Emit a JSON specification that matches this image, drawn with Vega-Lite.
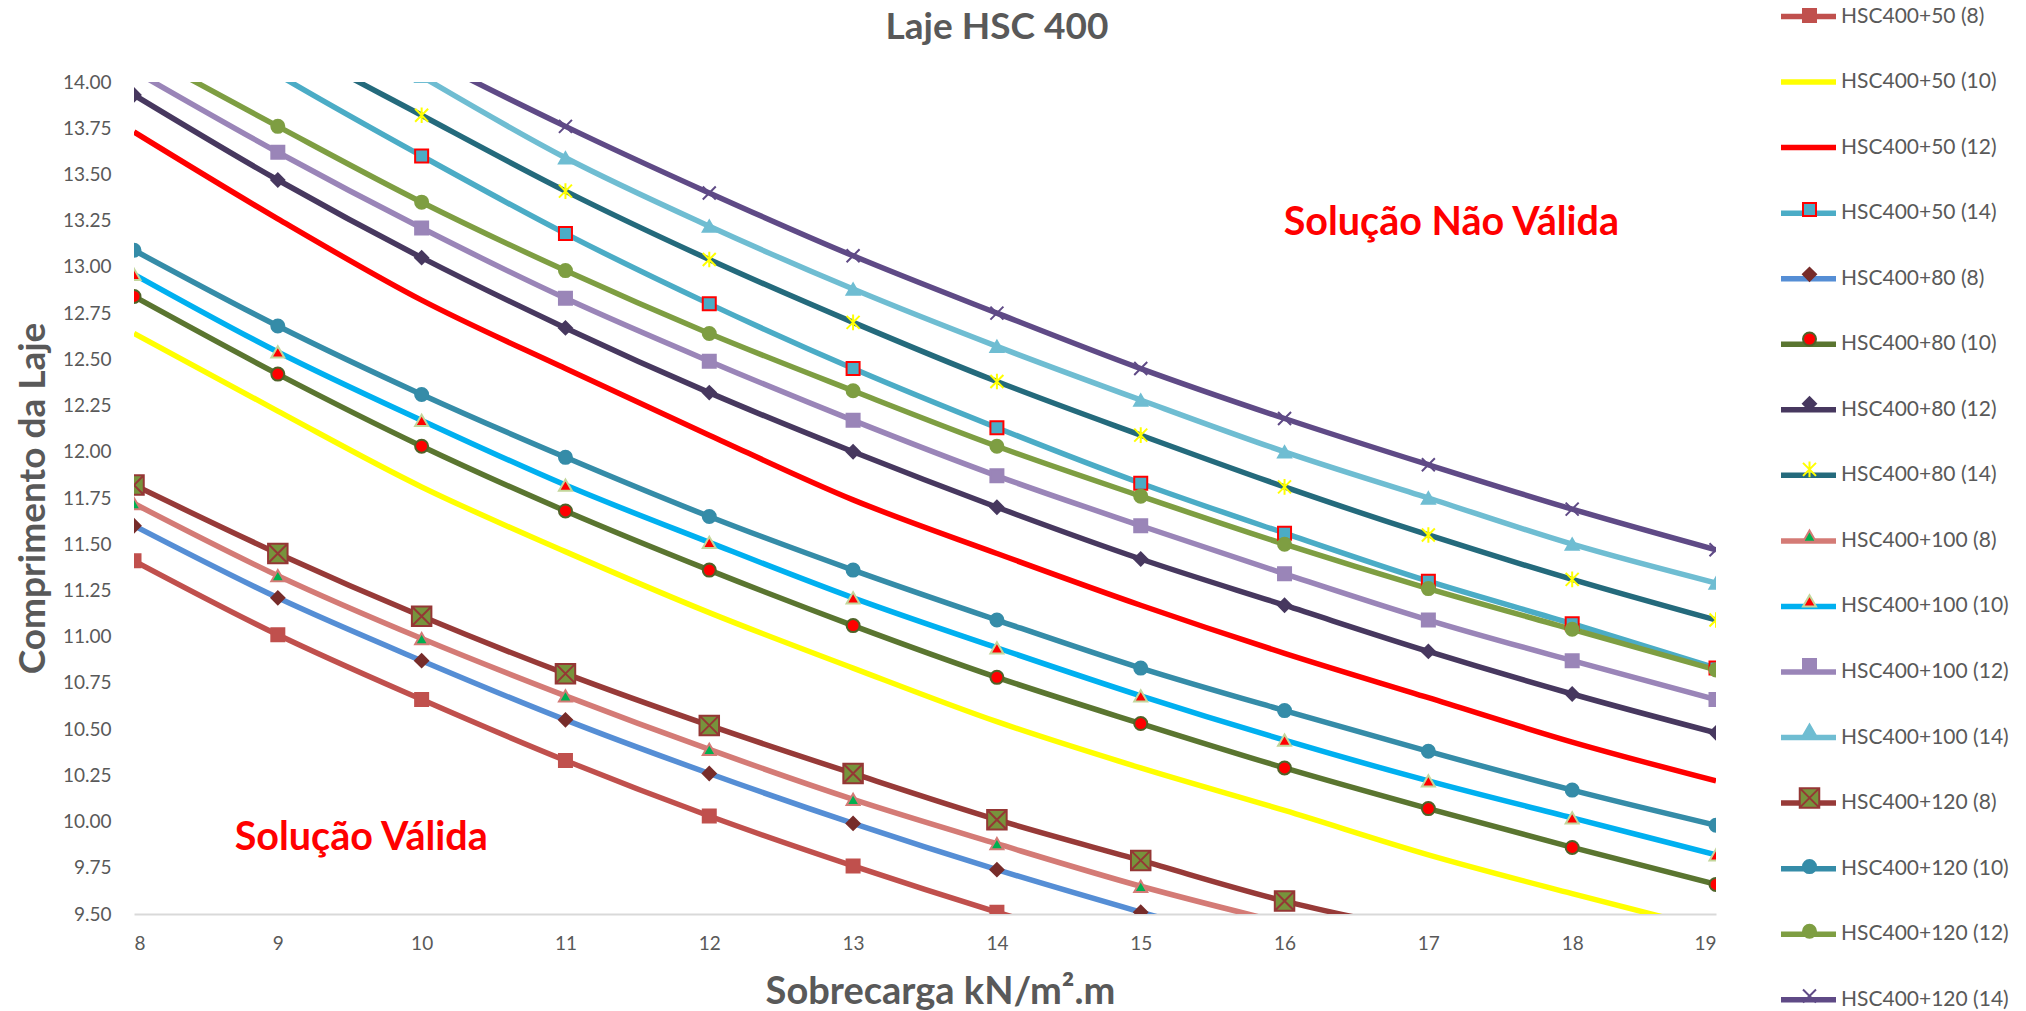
{
  "$schema": "https://vega.github.io/schema/vega-lite/v6.json",
  "autosize": {"type": "none"},
  "padding": {"left": 134, "top": 82, "right": 310, "bottom": 97},
  "width": 1582,
  "height": 832,
  "background": "white",
  "config": {"view": {"stroke": null}, "font": "Lato"},
  "title": {"text": "Laje HSC 400", "font": "Lato", "fontSize": 37, "fontWeight": "bold", "color": "#595959", "anchor": "middle", "frame": "group", "dx": 72, "baseline": "alphabetic", "offset": -90},
  "datasets": {
    "curves": [
      {"series": "HSC400+50 (8)", "x": 8, "y": 11.41}, {"series": "HSC400+50 (8)", "x": 9, "y": 11.01}, {"series": "HSC400+50 (8)", "x": 10, "y": 10.66}, {"series": "HSC400+50 (8)", "x": 11, "y": 10.33}, {"series": "HSC400+50 (8)", "x": 12, "y": 10.03}, {"series": "HSC400+50 (8)", "x": 13, "y": 9.76}, {"series": "HSC400+50 (8)", "x": 14, "y": 9.51}, {"series": "HSC400+50 (8)", "x": 15, "y": 9.28},
      {"series": "HSC400+50 (10)", "x": 8, "y": 12.64}, {"series": "HSC400+50 (10)", "x": 9, "y": 12.22}, {"series": "HSC400+50 (10)", "x": 10, "y": 11.81}, {"series": "HSC400+50 (10)", "x": 11, "y": 11.46}, {"series": "HSC400+50 (10)", "x": 12, "y": 11.13}, {"series": "HSC400+50 (10)", "x": 13, "y": 10.83}, {"series": "HSC400+50 (10)", "x": 14, "y": 10.54}, {"series": "HSC400+50 (10)", "x": 15, "y": 10.29}, {"series": "HSC400+50 (10)", "x": 16, "y": 10.06}, {"series": "HSC400+50 (10)", "x": 17, "y": 9.82}, {"series": "HSC400+50 (10)", "x": 18, "y": 9.61}, {"series": "HSC400+50 (10)", "x": 19, "y": 9.41},
      {"series": "HSC400+50 (12)", "x": 8, "y": 13.73}, {"series": "HSC400+50 (12)", "x": 9, "y": 13.26}, {"series": "HSC400+50 (12)", "x": 10, "y": 12.82}, {"series": "HSC400+50 (12)", "x": 11, "y": 12.45}, {"series": "HSC400+50 (12)", "x": 12, "y": 12.09}, {"series": "HSC400+50 (12)", "x": 13, "y": 11.74}, {"series": "HSC400+50 (12)", "x": 14, "y": 11.45}, {"series": "HSC400+50 (12)", "x": 15, "y": 11.17}, {"series": "HSC400+50 (12)", "x": 16, "y": 10.91}, {"series": "HSC400+50 (12)", "x": 17, "y": 10.67}, {"series": "HSC400+50 (12)", "x": 18, "y": 10.43}, {"series": "HSC400+50 (12)", "x": 19, "y": 10.22},
      {"series": "HSC400+50 (14)", "x": 8, "y": 14.52}, {"series": "HSC400+50 (14)", "x": 9, "y": 14.04}, {"series": "HSC400+50 (14)", "x": 10, "y": 13.60}, {"series": "HSC400+50 (14)", "x": 11, "y": 13.18}, {"series": "HSC400+50 (14)", "x": 12, "y": 12.80}, {"series": "HSC400+50 (14)", "x": 13, "y": 12.45}, {"series": "HSC400+50 (14)", "x": 14, "y": 12.13}, {"series": "HSC400+50 (14)", "x": 15, "y": 11.83}, {"series": "HSC400+50 (14)", "x": 16, "y": 11.56}, {"series": "HSC400+50 (14)", "x": 17, "y": 11.30}, {"series": "HSC400+50 (14)", "x": 18, "y": 11.07}, {"series": "HSC400+50 (14)", "x": 19, "y": 10.83},
      {"series": "HSC400+80 (8)", "x": 8, "y": 11.60}, {"series": "HSC400+80 (8)", "x": 9, "y": 11.21}, {"series": "HSC400+80 (8)", "x": 10, "y": 10.87}, {"series": "HSC400+80 (8)", "x": 11, "y": 10.55}, {"series": "HSC400+80 (8)", "x": 12, "y": 10.26}, {"series": "HSC400+80 (8)", "x": 13, "y": 9.99}, {"series": "HSC400+80 (8)", "x": 14, "y": 9.74}, {"series": "HSC400+80 (8)", "x": 15, "y": 9.51}, {"series": "HSC400+80 (8)", "x": 16, "y": 9.29},
      {"series": "HSC400+80 (10)", "x": 8, "y": 12.84}, {"series": "HSC400+80 (10)", "x": 9, "y": 12.42}, {"series": "HSC400+80 (10)", "x": 10, "y": 12.03}, {"series": "HSC400+80 (10)", "x": 11, "y": 11.68}, {"series": "HSC400+80 (10)", "x": 12, "y": 11.36}, {"series": "HSC400+80 (10)", "x": 13, "y": 11.06}, {"series": "HSC400+80 (10)", "x": 14, "y": 10.78}, {"series": "HSC400+80 (10)", "x": 15, "y": 10.53}, {"series": "HSC400+80 (10)", "x": 16, "y": 10.29}, {"series": "HSC400+80 (10)", "x": 17, "y": 10.07}, {"series": "HSC400+80 (10)", "x": 18, "y": 9.86}, {"series": "HSC400+80 (10)", "x": 19, "y": 9.66},
      {"series": "HSC400+80 (12)", "x": 8, "y": 13.93}, {"series": "HSC400+80 (12)", "x": 9, "y": 13.47}, {"series": "HSC400+80 (12)", "x": 10, "y": 13.05}, {"series": "HSC400+80 (12)", "x": 11, "y": 12.67}, {"series": "HSC400+80 (12)", "x": 12, "y": 12.32}, {"series": "HSC400+80 (12)", "x": 13, "y": 12.00}, {"series": "HSC400+80 (12)", "x": 14, "y": 11.70}, {"series": "HSC400+80 (12)", "x": 15, "y": 11.42}, {"series": "HSC400+80 (12)", "x": 16, "y": 11.17}, {"series": "HSC400+80 (12)", "x": 17, "y": 10.92}, {"series": "HSC400+80 (12)", "x": 18, "y": 10.69}, {"series": "HSC400+80 (12)", "x": 19, "y": 10.48},
      {"series": "HSC400+80 (14)", "x": 8, "y": 14.72}, {"series": "HSC400+80 (14)", "x": 9, "y": 14.24}, {"series": "HSC400+80 (14)", "x": 10, "y": 13.82}, {"series": "HSC400+80 (14)", "x": 11, "y": 13.41}, {"series": "HSC400+80 (14)", "x": 12, "y": 13.04}, {"series": "HSC400+80 (14)", "x": 13, "y": 12.70}, {"series": "HSC400+80 (14)", "x": 14, "y": 12.38}, {"series": "HSC400+80 (14)", "x": 15, "y": 12.09}, {"series": "HSC400+80 (14)", "x": 16, "y": 11.81}, {"series": "HSC400+80 (14)", "x": 17, "y": 11.55}, {"series": "HSC400+80 (14)", "x": 18, "y": 11.31}, {"series": "HSC400+80 (14)", "x": 19, "y": 11.09},
      {"series": "HSC400+100 (8)", "x": 8, "y": 11.72}, {"series": "HSC400+100 (8)", "x": 9, "y": 11.33}, {"series": "HSC400+100 (8)", "x": 10, "y": 10.99}, {"series": "HSC400+100 (8)", "x": 11, "y": 10.68}, {"series": "HSC400+100 (8)", "x": 12, "y": 10.39}, {"series": "HSC400+100 (8)", "x": 13, "y": 10.12}, {"series": "HSC400+100 (8)", "x": 14, "y": 9.88}, {"series": "HSC400+100 (8)", "x": 15, "y": 9.65}, {"series": "HSC400+100 (8)", "x": 16, "y": 9.45},
      {"series": "HSC400+100 (10)", "x": 8, "y": 12.96}, {"series": "HSC400+100 (10)", "x": 9, "y": 12.54}, {"series": "HSC400+100 (10)", "x": 10, "y": 12.17}, {"series": "HSC400+100 (10)", "x": 11, "y": 11.82}, {"series": "HSC400+100 (10)", "x": 12, "y": 11.51}, {"series": "HSC400+100 (10)", "x": 13, "y": 11.21}, {"series": "HSC400+100 (10)", "x": 14, "y": 10.94}, {"series": "HSC400+100 (10)", "x": 15, "y": 10.68}, {"series": "HSC400+100 (10)", "x": 16, "y": 10.44}, {"series": "HSC400+100 (10)", "x": 17, "y": 10.22}, {"series": "HSC400+100 (10)", "x": 18, "y": 10.02}, {"series": "HSC400+100 (10)", "x": 19, "y": 9.82},
      {"series": "HSC400+100 (12)", "x": 8, "y": 14.06}, {"series": "HSC400+100 (12)", "x": 9, "y": 13.62}, {"series": "HSC400+100 (12)", "x": 10, "y": 13.21}, {"series": "HSC400+100 (12)", "x": 11, "y": 12.83}, {"series": "HSC400+100 (12)", "x": 12, "y": 12.49}, {"series": "HSC400+100 (12)", "x": 13, "y": 12.17}, {"series": "HSC400+100 (12)", "x": 14, "y": 11.87}, {"series": "HSC400+100 (12)", "x": 15, "y": 11.60}, {"series": "HSC400+100 (12)", "x": 16, "y": 11.34}, {"series": "HSC400+100 (12)", "x": 17, "y": 11.09}, {"series": "HSC400+100 (12)", "x": 18, "y": 10.87}, {"series": "HSC400+100 (12)", "x": 19, "y": 10.66},
      {"series": "HSC400+100 (14)", "x": 8, "y": 15.00}, {"series": "HSC400+100 (14)", "x": 9, "y": 14.50}, {"series": "HSC400+100 (14)", "x": 10, "y": 14.03}, {"series": "HSC400+100 (14)", "x": 11, "y": 13.59}, {"series": "HSC400+100 (14)", "x": 12, "y": 13.22}, {"series": "HSC400+100 (14)", "x": 13, "y": 12.88}, {"series": "HSC400+100 (14)", "x": 14, "y": 12.57}, {"series": "HSC400+100 (14)", "x": 15, "y": 12.28}, {"series": "HSC400+100 (14)", "x": 16, "y": 12.00}, {"series": "HSC400+100 (14)", "x": 17, "y": 11.75}, {"series": "HSC400+100 (14)", "x": 18, "y": 11.50}, {"series": "HSC400+100 (14)", "x": 19, "y": 11.29},
      {"series": "HSC400+120 (8)", "x": 8, "y": 11.82}, {"series": "HSC400+120 (8)", "x": 9, "y": 11.45}, {"series": "HSC400+120 (8)", "x": 10, "y": 11.11}, {"series": "HSC400+120 (8)", "x": 11, "y": 10.80}, {"series": "HSC400+120 (8)", "x": 12, "y": 10.52}, {"series": "HSC400+120 (8)", "x": 13, "y": 10.26}, {"series": "HSC400+120 (8)", "x": 14, "y": 10.01}, {"series": "HSC400+120 (8)", "x": 15, "y": 9.79}, {"series": "HSC400+120 (8)", "x": 16, "y": 9.57}, {"series": "HSC400+120 (8)", "x": 17, "y": 9.40},
      {"series": "HSC400+120 (10)", "x": 8, "y": 13.09}, {"series": "HSC400+120 (10)", "x": 9, "y": 12.68}, {"series": "HSC400+120 (10)", "x": 10, "y": 12.31}, {"series": "HSC400+120 (10)", "x": 11, "y": 11.97}, {"series": "HSC400+120 (10)", "x": 12, "y": 11.65}, {"series": "HSC400+120 (10)", "x": 13, "y": 11.36}, {"series": "HSC400+120 (10)", "x": 14, "y": 11.09}, {"series": "HSC400+120 (10)", "x": 15, "y": 10.83}, {"series": "HSC400+120 (10)", "x": 16, "y": 10.60}, {"series": "HSC400+120 (10)", "x": 17, "y": 10.38}, {"series": "HSC400+120 (10)", "x": 18, "y": 10.17}, {"series": "HSC400+120 (10)", "x": 19, "y": 9.98},
      {"series": "HSC400+120 (12)", "x": 8, "y": 14.18}, {"series": "HSC400+120 (12)", "x": 9, "y": 13.76}, {"series": "HSC400+120 (12)", "x": 10, "y": 13.35}, {"series": "HSC400+120 (12)", "x": 11, "y": 12.98}, {"series": "HSC400+120 (12)", "x": 12, "y": 12.64}, {"series": "HSC400+120 (12)", "x": 13, "y": 12.33}, {"series": "HSC400+120 (12)", "x": 14, "y": 12.03}, {"series": "HSC400+120 (12)", "x": 15, "y": 11.76}, {"series": "HSC400+120 (12)", "x": 16, "y": 11.50}, {"series": "HSC400+120 (12)", "x": 17, "y": 11.26}, {"series": "HSC400+120 (12)", "x": 18, "y": 11.04}, {"series": "HSC400+120 (12)", "x": 19, "y": 10.82},
      {"series": "HSC400+120 (14)", "x": 8, "y": 15.10}, {"series": "HSC400+120 (14)", "x": 9, "y": 14.60}, {"series": "HSC400+120 (14)", "x": 10, "y": 14.15}, {"series": "HSC400+120 (14)", "x": 11, "y": 13.76}, {"series": "HSC400+120 (14)", "x": 12, "y": 13.40}, {"series": "HSC400+120 (14)", "x": 13, "y": 13.06}, {"series": "HSC400+120 (14)", "x": 14, "y": 12.75}, {"series": "HSC400+120 (14)", "x": 15, "y": 12.45}, {"series": "HSC400+120 (14)", "x": 16, "y": 12.18}, {"series": "HSC400+120 (14)", "x": 17, "y": 11.93}, {"series": "HSC400+120 (14)", "x": 18, "y": 11.69}, {"series": "HSC400+120 (14)", "x": 19, "y": 11.47}
    ],
    "notes": [
      {"x": 17.16, "y": 13.24, "label": "Solução Não Válida"},
      {"x": 9.58, "y": 9.91, "label": "Solução Válida"}
    ]
  },
  "data": {"name": "curves"},
  "encoding": {
    "x": {"field": "x", "type": "quantitative", "scale": {"domain": [8, 19], "nice": false, "zero": false},
      "axis": {"values": [8, 9, 10, 11, 12, 13, 14, 15, 16, 17, 18, 19], "format": "d", "grid": false, "ticks": false, "tickSize": 0, "domainColor": "#D9D9D9", "domainWidth": 2, "labelFont": "Lato", "labelFontSize": 19, "labelColor": "#595959", "labelPadding": 20, "title": "Sobrecarga kN/m².m", "titleFont": "Lato", "titleFontSize": 38, "titleFontWeight": "bold", "titleColor": "#595959", "titlePadding": 20, "titleX": 806}},
    "y": {"field": "y", "type": "quantitative", "scale": {"domain": [9.5, 14], "nice": false, "zero": false},
      "axis": {"values": [9.5, 9.75, 10, 10.25, 10.5, 10.75, 11, 11.25, 11.5, 11.75, 12, 12.25, 12.5, 12.75, 13, 13.25, 13.5, 13.75, 14], "format": ".2f", "grid": false, "ticks": false, "tickSize": 0, "domain": false, "labelFont": "Lato", "labelFontSize": 19, "labelColor": "#595959", "labelPadding": 23, "title": "Comprimento da Laje", "titleFont": "Lato", "titleFontSize": 37, "titleFontWeight": "bold", "titleColor": "#595959", "titlePadding": 10}}
  },
  "layer": [
    {
      "mark": {"type": "line", "interpolate": "monotone", "strokeWidth": 5.5, "clip": true},
      "encoding": {
        "color": {"field": "series", "type": "nominal",
          "sort": ["HSC400+50 (8)", "HSC400+50 (10)", "HSC400+50 (12)", "HSC400+50 (14)", "HSC400+80 (8)", "HSC400+80 (10)", "HSC400+80 (12)", "HSC400+80 (14)", "HSC400+100 (8)", "HSC400+100 (10)", "HSC400+100 (12)", "HSC400+100 (14)", "HSC400+120 (8)", "HSC400+120 (10)", "HSC400+120 (12)", "HSC400+120 (14)"],
          "scale": {"range": ["#C0504D", "#FFFF00", "#FF0000", "#4BACC6", "#558ED5", "#5A7530", "#47385F", "#246A7C", "#D47B76", "#00B0F0", "#9A85B8", "#6FBDD2", "#973A38", "#358CA8", "#7E9E42", "#5F4A86"]},
          "legend": {"orient": "none", "legendX": 1644, "legendY": -96, "title": null, "symbolType": "stroke", "symbolSize": 3025, "symbolStrokeWidth": 5.5, "symbolOpacity": 1, "labelFont": "Lato", "labelFontSize": 21, "labelColor": "#595959", "labelOffset": 2, "labelLimit": 300, "rowPadding": 23.55, "padding": 0}}
      }
    },
    {
      "mark": {"type": "point", "filled": true, "opacity": 1, "size": 169, "strokeWidth": 2, "clip": true},
      "encoding": {
        "fill": {"field": "series", "type": "nominal",
          "scale": {"domain": ["HSC400+50 (8)", "HSC400+50 (10)", "HSC400+50 (12)", "HSC400+50 (14)", "HSC400+80 (8)", "HSC400+80 (10)", "HSC400+80 (12)", "HSC400+80 (14)", "HSC400+100 (8)", "HSC400+100 (10)", "HSC400+100 (12)", "HSC400+100 (14)", "HSC400+120 (8)", "HSC400+120 (10)", "HSC400+120 (12)", "HSC400+120 (14)"],
            "range": ["#C0504D", "transparent", "transparent", "#4BACC6", "#772C2A", "#FF0000", "#47385F", "#FFFF00", "#00B050", "#FF0000", "#9A85B8", "#6FBDD2", "#77933C", "#358CA8", "#7E9E42", "#5F4A86"]},
          "legend": {"orient": "none", "legendX": 1665, "legendY": -77, "title": null, "symbolSize": 169, "symbolStrokeWidth": 2, "symbolOpacity": 1, "labelFont": "Lato", "labelFontSize": 21, "labelExpr": "''", "labelOffset": 6, "labelLimit": 300, "rowPadding": 42.7, "padding": 0}},
        "stroke": {"field": "series", "type": "nominal",
          "scale": {"domain": ["HSC400+50 (8)", "HSC400+50 (10)", "HSC400+50 (12)", "HSC400+50 (14)", "HSC400+80 (8)", "HSC400+80 (10)", "HSC400+80 (12)", "HSC400+80 (14)", "HSC400+100 (8)", "HSC400+100 (10)", "HSC400+100 (12)", "HSC400+100 (14)", "HSC400+120 (8)", "HSC400+120 (10)", "HSC400+120 (12)", "HSC400+120 (14)"],
            "range": ["#C0504D", "transparent", "transparent", "#FF0000", "#772C2A", "#4F6228", "#47385F", "#FFFF00", "#D47B76", "#C3D69B", "#9A85B8", "#6FBDD2", "#953735", "#358CA8", "#7E9E42", "#5F4A86"]},
          "legend": {"orient": "none", "legendX": 1665, "legendY": -77, "title": null, "symbolSize": 169, "symbolStrokeWidth": 2, "symbolOpacity": 1, "labelFont": "Lato", "labelFontSize": 21, "labelExpr": "''", "labelOffset": 6, "labelLimit": 300, "rowPadding": 42.7, "padding": 0}},
        "shape": {"field": "series", "type": "nominal",
          "scale": {"domain": ["HSC400+50 (8)", "HSC400+50 (10)", "HSC400+50 (12)", "HSC400+50 (14)", "HSC400+80 (8)", "HSC400+80 (10)", "HSC400+80 (12)", "HSC400+80 (14)", "HSC400+100 (8)", "HSC400+100 (10)", "HSC400+100 (12)", "HSC400+100 (14)", "HSC400+120 (8)", "HSC400+120 (10)", "HSC400+120 (12)", "HSC400+120 (14)"],
            "range": ["square", "circle", "circle", "square", "diamond", "circle", "diamond", "M-1,-1L1,1M-1,1L1,-1M0,-1.2L0,1.2", "triangle-up", "triangle-up", "square", "triangle-up", "M-1.5,-1.5H1.5V1.5H-1.5Z M-1.5,-1.5L1.5,1.5 M-1.5,1.5L1.5,-1.5", "circle", "circle", "M-1,-1L1,1M-1,1L1,-1"]},
          "legend": {"orient": "none", "legendX": 1665, "legendY": -77, "title": null, "symbolSize": 169, "symbolStrokeWidth": 2, "symbolOpacity": 1, "labelFont": "Lato", "labelFontSize": 21, "labelExpr": "''", "labelOffset": 6, "labelLimit": 300, "rowPadding": 42.7, "padding": 0}}
      }
    },
    {
      "data": {"name": "notes"},
      "mark": {"type": "text", "font": "Lato", "fontSize": 39.5, "fontWeight": "bold", "color": "#FF0000", "align": "center", "baseline": "middle"},
      "encoding": {"text": {"field": "label", "type": "nominal"}}
    }
  ]
}
